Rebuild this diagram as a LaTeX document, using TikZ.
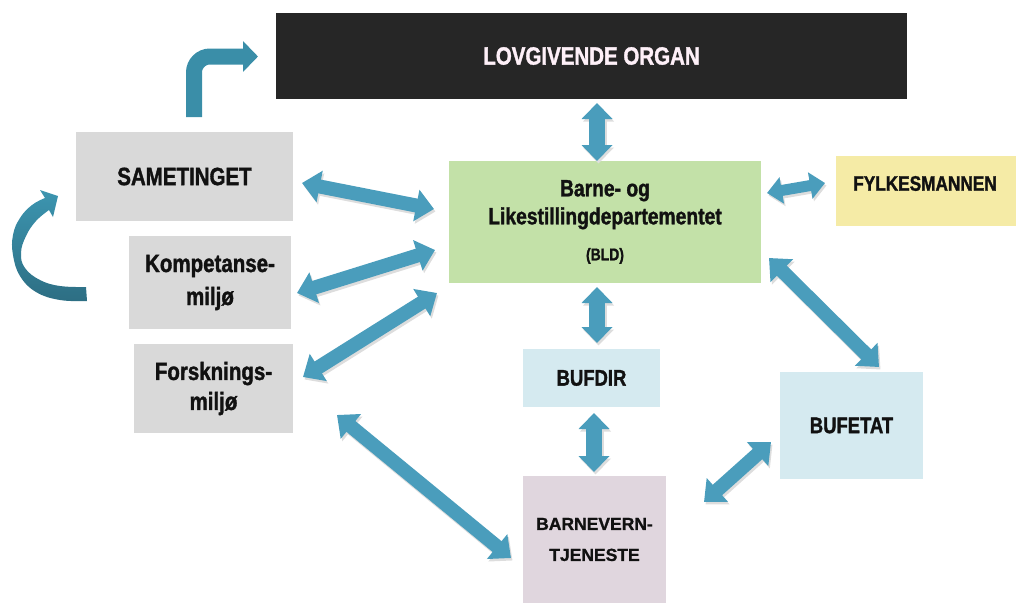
\documentclass[tikz,border=0pt]{standalone}
\usepackage{fontspec}
\usetikzlibrary{arrows.meta,calc}
\newfontfamily\condfont[FakeStretch=0.82,FakeBold=1.4]{Liberation Sans}
\newfontfamily\widefont[FakeBold=1.2]{Liberation Sans}
\definecolor{lovfill}{HTML}{262626}
\definecolor{grayfill}{HTML}{D9D9D9}
\definecolor{greenfill}{HTML}{C3E1A8}
\definecolor{yellowfill}{HTML}{F5EBA6}
\definecolor{bluefill}{HTML}{D5EAF0}
\definecolor{mauvefill}{HTML}{E0D6DE}
\definecolor{arrowcol}{HTML}{4A9DBC}
\definecolor{bentcol}{HTML}{3A8EA8}
\definecolor{circtop}{HTML}{3C95B0}
\definecolor{circbot}{HTML}{2D6E83}
\definecolor{shadowcol}{HTML}{DDDDDD}
\definecolor{textcol}{HTML}{111111}
\newcommand\fatarrow[3][]{%
  \draw[fat,draw=shadowcol,transform canvas={shift={(1.5pt,-2.5pt)}},#1] #2 -- #3;
  \draw[fat,#1] #2 -- #3;}
\begin{document}
\begin{tikzpicture}[x=1pt,y=-1pt,
  box/.style={draw=none,inner sep=0pt,outer sep=0pt,align=center,text=textcol,
    font=\condfont\bfseries\fontsize{25}{33}\selectfont},
  lbl/.style={inner sep=0pt,outer sep=0pt,align=center,text=textcol,
    font=\condfont\bfseries\fontsize{21}{26}\selectfont},
  fat/.style={line width=14pt,draw=arrowcol,
    {Triangle[length=18pt,width=31pt]}-{Triangle[length=18pt,width=31pt]}},
  vert/.style={line width=16pt,
    {Triangle[length=16pt,width=30pt]}-{Triangle[length=16pt,width=30pt]}},
  small/.style={line width=11pt,
    {Triangle[length=15pt,width=26pt]}-{Triangle[length=15pt,width=26pt]}},
  bent/.style={line width=16pt,draw=bentcol,rounded corners=16pt,
    -{Triangle[length=15pt,width=30pt]}}]
\useasboundingbox (0,0) rectangle (1016,603);

% boxes
\node[box,fill=lovfill,text=white!94!magenta,minimum width=631,minimum height=86,
  font=\condfont\bfseries\fontsize{25}{30}\selectfont]
  (lov) at (591.5,56) {LOVGIVENDE ORGAN};
\node[box,fill=grayfill,minimum width=217,minimum height=89]
  (sam) at (184.5,176.5) {\raisebox{-4pt}{SAMETINGET}};
\node[box,fill=grayfill,minimum width=162,minimum height=93]
  (komp) at (210,282.5) {Kompetanse-\\miljø};
\node[box,fill=grayfill,minimum width=159,minimum height=89,
  font=\condfont\bfseries\fontsize{25}{30}\selectfont]
  (forsk) at (213.5,388.5) {Forsknings-\\miljø};
\node[box,fill=greenfill,minimum width=312,minimum height=122,
  font=\condfont\bfseries\fontsize{23.5}{28}\selectfont]
  (bld) at (605,222) {Barne- og\\Likestillingdepartementet\\[8pt]{\fontsize{17}{20}\selectfont (BLD)}};
\node[box,fill=yellowfill,minimum width=180,minimum height=70]
  (fyl) at (926,191) {};
\node[lbl] (fyltxt) at ($(fyl.center)+(-1,-7.5)$) {FYLKESMANNEN};
\node[box,fill=bluefill,minimum width=137,minimum height=58,
  font=\condfont\bfseries\fontsize{22.5}{26}\selectfont]
  (bufdir) at (591.5,378) {BUFDIR};
\node[box,fill=bluefill,minimum width=143,minimum height=107,
  font=\condfont\bfseries\fontsize{22.5}{26}\selectfont]
  (bufetat) at (851.5,425.5) {BUFETAT};
\node[box,fill=mauvefill,minimum width=143,minimum height=127,
  font=\widefont\bfseries\fontsize{17.5}{31}\selectfont]
  (barn) at (594.5,539.5) {BARNEVERN-\\TJENESTE};

% double arrows
\fatarrow[vert]{($(lov.south)+(5.5,4)$)}{($(bld.north)+(-8,0)$)}
\fatarrow[vert]{($(bld.south)+(-8,4)$)}{($(bufdir.north)+(5.5,-6)$)}
\fatarrow[vert]{($(bufdir.south)+(2.5,6)$)}{($(barn.north)+(-0.5,-4)$)}
\fatarrow{($(sam.east)+(9,6.5)$)}{($(bld.west)+(-15,-13)$)}
\fatarrow{($(komp.east)+(6,10.5)$)}{($(bld.west)+(-14,28)$)}
\fatarrow{($(forsk.east)+(10,-11.5)$)}{($(bld.west)+(-12,71)$)}
\fatarrow{($(forsk.east)+(44,26.5)$)}{($(barn.west)+(-12,18.5)$)}
\fatarrow{($(bufetat.west)+(-9,16.5)$)}{($(barn.east)+(38,-37.5)$)}
\fatarrow{($(bld.east)+(8,36)$)}{($(bufetat.north)+(27.5,-5)$)}
\fatarrow[small]{($(bld.east)+(6,-29)$)}{($(fyl.west)+(-11,-8)$)}

% bent arrow from Sametinget to Lovgivende organ
\draw[bent] ($(sam.north)+(9.5,-15)$) |- ($(lov.west)+(-18,0.5)$);

% circular arrow
\shade[top color=circtop,bottom color=circbot]
  plot[smooth,tension=0.7] coordinates {(87,301) (60,300) (36,292) (20,276) (13,255) (13,235) (20,218) (32,205) (45,198)}
  -- (40,190) -- (58,196) -- (53,217) -- (49,210)
  -- plot[smooth,tension=0.7] coordinates {(49,210) (36,221) (26,236) (21,253) (25,268) (40,280) (60,286) (86,287)}
  -- cycle;
\end{tikzpicture}
\end{document}
